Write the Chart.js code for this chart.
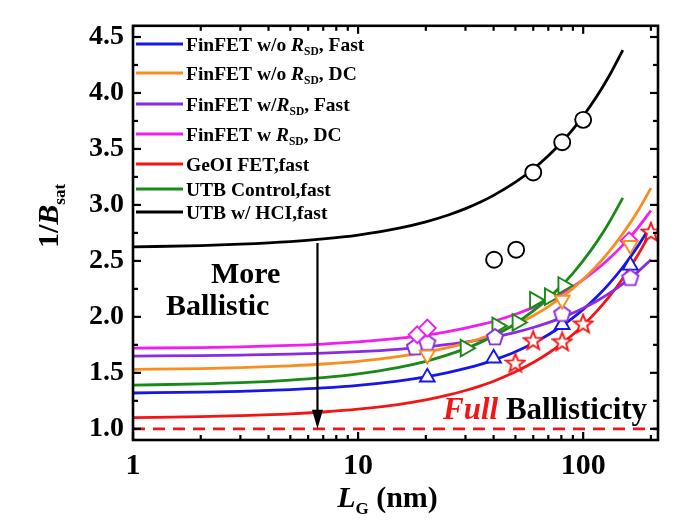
<!DOCTYPE html>
<html><head><meta charset="utf-8">
<script src="https://cdn.jsdelivr.net/npm/chart.js@4.4.1/dist/chart.umd.min.js"></script>
<style>html,body{margin:0;padding:0;background:#fff;}#wrap{width:697px;height:528px;}</style>
</head><body><div id="wrap"><canvas id="c" width="697" height="528"></canvas></div>
<script>
// ---------- axis ticks ----------
const X_TICKS = [1, 10, 100];
const X_TICK_LABELS = ['1', '10', '100'];
const X_MINOR = [2,3,4,5,6,7,8,9,20,30,40,50,60,70,80,90,200];
const Y_TICKS = [1.0,1.5,2.0,2.5,3.0,3.5,4.0,4.5];
const Y_TICK_LABELS = ['1.0','1.5','2.0','2.5','3.0','3.5','4.0','4.5'];
const Y_MINOR = [1.25,1.75,2.25,2.75,3.25,3.75,4.25];

// ---------- fitted curves ----------
const L_FIT_200  = [1,2,3,5,7,10,15,20,25,30,35,40,50,60,70,80,90,100,115,130,150,175,200];
const L_FIT_150  = [1,2,3,5,7,10,15,20,25,30,35,40,50,60,70,80,90,100,115,130,150];
const L_FIT_BLUE = [1,2,3,5,7,10,15,20,25,30,35,40,50,60,70,80,90,100,115,130,150,175,195];
const FIT_FIN_NORSD_FAST = [1.320,1.328,1.335,1.350,1.365,1.388,1.426,1.463,1.501,1.539,1.576,1.614,1.689,1.765,1.840,1.916,1.991,2.066,2.180,2.293,2.443,2.632,2.783];
const FIT_FIN_NORSD_DC   = [1.530,1.538,1.546,1.563,1.579,1.603,1.644,1.685,1.725,1.766,1.807,1.847,1.929,2.010,2.092,2.173,2.254,2.336,2.458,2.580,2.743,2.946,3.150];
const FIT_FIN_RSD_FAST   = [1.650,1.654,1.659,1.667,1.676,1.689,1.710,1.732,1.754,1.775,1.797,1.818,1.862,1.905,1.948,1.991,2.034,2.078,2.142,2.207,2.294,2.402,2.510];
const FIT_FIN_RSD_DC     = [1.720,1.726,1.732,1.745,1.757,1.776,1.807,1.837,1.868,1.899,1.930,1.961,2.023,2.085,2.146,2.208,2.270,2.332,2.425,2.517,2.641,2.795,2.950];
const FIT_GEOI           = [1.100,1.108,1.117,1.133,1.150,1.175,1.217,1.258,1.300,1.342,1.384,1.425,1.509,1.592,1.675,1.759,1.842,1.926,2.051,2.176,2.343,2.552,2.760];
const FIT_UTB_CONTROL    = [1.390,1.401,1.412,1.435,1.457,1.491,1.547,1.603,1.660,1.716,1.772,1.828,1.940,2.053,2.165,2.277,2.389,2.502,2.670,2.839,3.063];
const FIT_UTB_HCI        = [2.625,2.637,2.649,2.672,2.696,2.731,2.790,2.849,2.908,2.967,3.026,3.085,3.203,3.321,3.439,3.557,3.675,3.793,3.970,4.147,4.383];

// ---------- measured points ----------
const PTS_FIN_NORSD_FAST_L = [20.3, 40, 80.7, 162];
const PTS_FIN_NORSD_FAST   = [1.46, 1.63, 1.93, 2.46];
const PTS_FIN_NORSD_DC_L   = [20.3, 80.7, 162];
const PTS_FIN_NORSD_DC     = [1.66, 2.15, 2.64];
const PTS_FIN_RSD_FAST_L   = [17.9, 20.3, 40.6, 80.7, 162];
const PTS_FIN_RSD_FAST     = [1.73, 1.77, 1.82, 2.03, 2.35];
const PTS_FIN_RSD_DC_L     = [18.3, 20.3, 160];
const PTS_FIN_RSD_DC       = [1.84, 1.90, 2.68];
const PTS_GEOI_L           = [50, 60, 80.7, 100, 200];
const PTS_GEOI             = [1.59, 1.79, 1.78, 1.94, 2.76];
const PTS_UTB_CONTROL_L    = [30, 41.5, 51, 61, 71, 81.5];
const PTS_UTB_CONTROL      = [1.72, 1.92, 1.95, 2.15, 2.18, 2.28];
const PTS_UTB_HCI_L        = [40.2, 50.4, 60, 80.7, 100];
const PTS_UTB_HCI          = [2.51, 2.60, 3.29, 3.56, 3.76];

const FULL_BALLISTIC_L = [1, 215];
const FULL_BALLISTIC   = [1.0, 1.0];
const ARROW_L = 6.6, ARROW_FROM = 2.66, ARROW_TO = 1.0;

// legend entries: [text, style]  style: '' bold, 'i' bold italic, 's' subscript
const SERIES_NAMES = [
  [['FinFET w/o ',''],['R','i'],['SD','s'],[', Fast','']],
  [['FinFET w/o ',''],['R','i'],['SD','s'],[', DC','']],
  [['FinFET w/',''],['R','i'],['SD','s'],[', Fast','']],
  [['FinFET w ',''],['R','i'],['SD','s'],[', DC','']],
  [['GeOI FET,fast','']],
  [['UTB Control,fast','']],
  [['UTB w/ HCI,fast','']]
];

const COL = {blue:'#1616e8', orange:'#fb8c1e', purple:'#8a2ae4', magenta:'#f01cf0', red:'#f41414', green:'#178a17', black:'#000'};
const LEGEND_COLORS = [COL.blue, COL.orange, COL.purple, COL.magenta, COL.red, COL.green, COL.black];
const FONT = '"Liberation Serif", "Times New Roman", serif';

const pts = (xs, ys) => xs.map((x, i) => ({x, y: ys[i]}));

function makeShape(kind, color) {
  const c = document.createElement('canvas');
  c.width = 22; c.height = 22;
  const g = c.getContext('2d');
  g.beginPath();
  if (kind === 'pent') {
    for (let k = 0; k < 5; k++) {
      const a = -Math.PI/2 + k*2*Math.PI/5;
      const px = 11 + 8.5*Math.cos(a), py = 11.5 + 8.5*Math.sin(a);
      k ? g.lineTo(px, py) : g.moveTo(px, py);
    }
  } else {
    for (let k = 0; k < 10; k++) {
      const a = -Math.PI/2 + k*Math.PI/5;
      const r = k % 2 ? 4.2 : 9.8;
      const px = 11 + r*Math.cos(a), py = 11.8 + r*Math.sin(a);
      k ? g.lineTo(px, py) : g.moveTo(px, py);
    }
  }
  g.closePath();
  g.fillStyle = '#fff'; g.fill();
  g.strokeStyle = color; g.lineWidth = 1.9; g.lineJoin = 'miter'; g.stroke();
  return c;
}
const PENT = makeShape('pent', COL.purple);
const STAR = makeShape('star', COL.red);

function lineDS(xs, ys, color) {
  return {data: pts(xs, ys), borderColor: color, borderWidth: 2.8, pointRadius: 0,
    fill: false, cubicInterpolationMode: 'monotone', order: 2};
}
function markDS(xs, ys, color, style, rot, r) {
  return {data: pts(xs, ys), showLine: false, borderColor: color, backgroundColor: '#fff',
    pointStyle: style, pointRotation: rot || 0, pointRadius: r || 8, pointBorderWidth: 1.9, order: 1};
}

const datasets = [
  {data: pts(FULL_BALLISTIC_L, FULL_BALLISTIC), borderColor: COL.red, borderWidth: 2.7, borderDash: [12, 8], pointRadius: 0, order: 3},
  lineDS(L_FIT_150, FIT_UTB_HCI, COL.black),
  lineDS(L_FIT_150, FIT_UTB_CONTROL, COL.green),
  lineDS(L_FIT_200, FIT_FIN_NORSD_DC, COL.orange),
  lineDS(L_FIT_200, FIT_FIN_RSD_DC, COL.magenta),
  lineDS(L_FIT_200, FIT_FIN_RSD_FAST, COL.purple),
  lineDS(L_FIT_BLUE, FIT_FIN_NORSD_FAST, COL.blue),
  lineDS(L_FIT_200, FIT_GEOI, COL.red),
  markDS(PTS_UTB_HCI_L, PTS_UTB_HCI, COL.black, 'circle', 0, 8),
  markDS(PTS_FIN_NORSD_DC_L, PTS_FIN_NORSD_DC, COL.orange, 'triangle', 180, 8.5),
  markDS(PTS_FIN_RSD_DC_L, PTS_FIN_RSD_DC, COL.magenta, 'rectRot', 0, 8.5),
  markDS(PTS_FIN_RSD_FAST_L, PTS_FIN_RSD_FAST, COL.purple, PENT, 0, 8),
  markDS(PTS_FIN_NORSD_FAST_L, PTS_FIN_NORSD_FAST, COL.blue, 'triangle', 0, 8.5),
  markDS(PTS_UTB_CONTROL_L, PTS_UTB_CONTROL, COL.green, 'triangle', 90, 9.5),
  markDS(PTS_GEOI_L, PTS_GEOI, COL.red, STAR, 0, 9)
];

function drawRich(ctx, x, y, segs, size, subSize, color) {
  for (const [t, st] of segs) {
    const sz = st === 's' ? subSize : size;
    ctx.font = (st === 'i' ? 'italic ' : '') + 'bold ' + sz + 'px ' + FONT;
    ctx.fillStyle = color || '#000';
    ctx.fillText(t, x, y + (st === 's' ? size * 0.22 : 0));
    x += ctx.measureText(t).width;
  }
  return x;
}
function richWidth(ctx, segs, size, subSize) {
  let w = 0;
  for (const [t, st] of segs) {
    const sz = st === 's' ? subSize : size;
    ctx.font = (st === 'i' ? 'italic ' : '') + 'bold ' + sz + 'px ' + FONT;
    w += ctx.measureText(t).width;
  }
  return w;
}

const decor = {
  id: 'decor',
  afterDatasetsDraw(chart) {
    const {ctx, chartArea: a, scales: {x, y}} = chart;
    ctx.save();
    // arrow
    const ax = x.getPixelForValue(ARROW_L), y1 = y.getPixelForValue(ARROW_FROM), y2 = y.getPixelForValue(ARROW_TO);
    ctx.strokeStyle = '#000'; ctx.lineWidth = 2.2;
    ctx.beginPath(); ctx.moveTo(ax, y1); ctx.lineTo(ax, y2 - 12); ctx.stroke();
    ctx.fillStyle = '#000';
    ctx.beginPath(); ctx.moveTo(ax, y2); ctx.lineTo(ax - 5.5, y2 - 19); ctx.lineTo(ax + 5.5, y2 - 19); ctx.closePath(); ctx.fill();
    // frame
    ctx.lineWidth = 2.6; ctx.strokeStyle = '#000';
    ctx.strokeRect(a.left, a.top, a.right - a.left, a.bottom - a.top);
    // ticks
    ctx.lineWidth = 2.2;
    const tk = (x0, y0, x1, y1) => { ctx.beginPath(); ctx.moveTo(x0, y0); ctx.lineTo(x1, y1); ctx.stroke(); };
    for (const v of X_TICKS.concat(X_MINOR)) {
      const px = x.getPixelForValue(v), len = X_TICKS.includes(v) ? 8 : 5;
      tk(px, a.bottom, px, a.bottom - len); tk(px, a.top, px, a.top + len);
    }
    for (const v of Y_TICKS.concat(Y_MINOR)) {
      const py = y.getPixelForValue(v), len = Y_TICKS.includes(v) ? 8 : 5;
      tk(a.left, py, a.left + len, py); tk(a.right, py, a.right - len, py);
    }
    // legend
    const rows = [44, 73, 104, 134, 164, 189, 212];
    ctx.textBaseline = 'alphabetic';
    SERIES_NAMES.forEach((segs, i) => {
      ctx.strokeStyle = LEGEND_COLORS[i]; ctx.lineWidth = 2.8;
      tk(136, rows[i], 183, rows[i]);
      drawRich(ctx, 186, rows[i] + 6.5, segs, 19.5, 11.5, '#000');
    });
    // annotations
    ctx.font = 'bold 30px ' + FONT; ctx.fillStyle = '#000';
    ctx.fillText('More', 211, 283);
    ctx.fillText('Ballistic', 166, 315);
    drawRich(ctx, 443, 419, [['Full', 'i']], 31, 18, COL.red);
    ctx.font = 'italic bold 31px ' + FONT;
    const fw = ctx.measureText('Full ').width;
    drawRich(ctx, 443 + fw, 419, [['Ballisticity', '']], 31, 18, '#000');
    // x title
    const xs = [['L', 'i'], ['G', 's'], [' (nm)', '']];
    const xw = richWidth(ctx, xs, 30, 17);
    drawRich(ctx, (a.left + a.right) / 2 - xw / 2 - 8, 507, xs, 30, 17, '#000');
    // y title
    const ys = [['1/', ''], ['B', 'i'], ['sat', 's']];
    const yw = richWidth(ctx, ys, 30, 17);
    ctx.translate(58, 216); ctx.rotate(-Math.PI / 2);
    drawRich(ctx, -yw / 2, 0, ys, 30, 17, '#000');
    ctx.restore();
  }
};

new Chart(document.getElementById('c'), {
  type: 'line',
  data: {datasets},
  options: {
    responsive: false, animation: false, parsing: true,
    layout: {padding: {left: 0, right: 39, top: 25, bottom: 0}},
    plugins: {legend: {display: false}, tooltip: {enabled: false}},
    scales: {
      x: {type: 'logarithmic', min: 1, max: 215,
        grid: {display: false, drawTicks: false}, border: {display: false},
        afterBuildTicks: s => { s.ticks = X_TICKS.map(v => ({value: v})); },
        afterFit: s => { s.height = 88; },
        ticks: {autoSkip: false, maxRotation: 0, padding: 8, color: '#000',
          font: {family: FONT, weight: 'bold', size: 30},
          callback: (v) => { const i = X_TICKS.indexOf(v); return i >= 0 ? X_TICK_LABELS[i] : ''; }}},
      y: {type: 'linear', min: 0.9, max: 4.6,
        grid: {display: false, drawTicks: false}, border: {display: false},
        afterBuildTicks: s => { s.ticks = Y_TICKS.map(v => ({value: v})); },
        afterFit: s => { s.width = 133; },
        ticks: {autoSkip: false, padding: 9, color: '#000',
          font: {family: FONT, weight: 'bold', size: 28},
          callback: (v) => { const i = Y_TICKS.findIndex(t => Math.abs(t - v) < 1e-6); return i >= 0 ? Y_TICK_LABELS[i] : ''; }}}
    }
  },
  plugins: [decor]
});
</script></body></html>
